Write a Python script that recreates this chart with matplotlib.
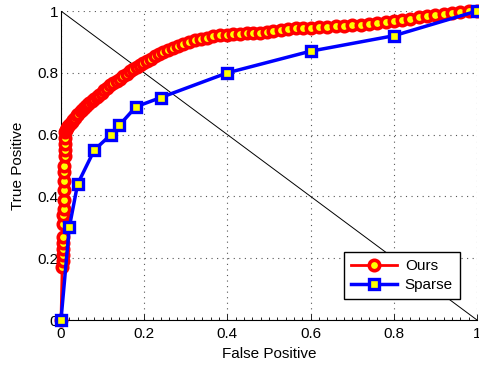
import numpy as np
import matplotlib
matplotlib.use('Agg')
import matplotlib.pyplot as plt
from matplotlib.ticker import MultipleLocator

plt.rcParams['font.family'] = ['Liberation Sans', 'DejaVu Sans']

# ROC curve of our method
ours_fp = [0.0, 0.003, 0.004, 0.004, 0.005, 0.005, 0.005, 0.006, 0.006, 0.007,
           0.007, 0.007, 0.008, 0.008, 0.008, 0.009, 0.009, 0.009, 0.010, 0.010,
           0.012, 0.015, 0.018, 0.022, 0.026, 0.030, 0.034, 0.038, 0.042, 0.047,
           0.052, 0.057, 0.062, 0.068, 0.074, 0.080, 0.086, 0.092, 0.098, 0.104,
           0.110, 0.118, 0.126, 0.134, 0.142, 0.150, 0.158, 0.166, 0.174, 0.182,
           0.190, 0.198, 0.206, 0.216, 0.226, 0.236, 0.246, 0.258, 0.270, 0.282,
           0.294, 0.308, 0.322, 0.336, 0.350, 0.366, 0.382, 0.398, 0.414, 0.430,
           0.446, 0.462, 0.478, 0.494, 0.510, 0.528, 0.546, 0.564, 0.582, 0.600,
           0.620, 0.640, 0.660, 0.680, 0.700, 0.720, 0.740, 0.760, 0.780, 0.800,
           0.820, 0.840, 0.860, 0.880, 0.900, 0.920, 0.940, 0.960, 0.980, 1.000]
ours_tp = [0.0, 0.17, 0.19, 0.21, 0.23, 0.25, 0.27, 0.31, 0.34, 0.36,
           0.39, 0.42, 0.45, 0.48, 0.50, 0.53, 0.55, 0.57, 0.59, 0.61,
           0.615, 0.62, 0.627, 0.634, 0.641, 0.648, 0.655, 0.662, 0.668, 0.675,
           0.682, 0.689, 0.695, 0.702, 0.709, 0.716, 0.722, 0.729, 0.736, 0.745,
           0.752, 0.760, 0.767, 0.774, 0.781, 0.789, 0.797, 0.806, 0.813, 0.819,
           0.825, 0.831, 0.838, 0.846, 0.853, 0.860, 0.866, 0.873, 0.880, 0.887,
           0.893, 0.899, 0.905, 0.910, 0.914, 0.918, 0.921, 0.923, 0.925, 0.927,
           0.928, 0.929, 0.930, 0.932, 0.934, 0.938, 0.942, 0.944, 0.945, 0.946,
           0.947, 0.948, 0.950, 0.952, 0.954, 0.956, 0.958, 0.961, 0.964, 0.967,
           0.971, 0.975, 0.979, 0.983, 0.987, 0.990, 0.993, 0.997, 0.999, 1.0]

# ROC curve of the sparse baseline
sparse_fp = [0.0, 0.02, 0.04, 0.08, 0.12, 0.14, 0.18, 0.24, 0.40, 0.60, 0.80, 1.0]
sparse_tp = [0.0, 0.30, 0.44, 0.55, 0.60, 0.63, 0.69, 0.72, 0.80, 0.87, 0.92, 1.0]

ticks = [0, 0.2, 0.4, 0.6, 0.8, 1]
tick_labels = ['0', '0.2', '0.4', '0.6', '0.8', '1']

fig = plt.figure(figsize=(4.79, 3.67), dpi=100)
ax = fig.add_axes([0.1273, 0.128, 0.8686, 0.842])

ax.plot([0, 1], [1, 0], color='black', lw=0.7, zorder=2)
ax.plot(ours_fp, ours_tp, color='red', lw=2, marker='o', ms=7.5,
        mfc='yellow', mec='red', mew=2.6, label='Ours', zorder=3, clip_on=False)
ax.plot(sparse_fp, sparse_tp, color='blue', lw=2.5, marker='s', ms=7,
        mfc='yellow', mec='blue', mew=2.4, label='Sparse', zorder=4, clip_on=False)

ax.set_xlim(0, 1)
ax.set_ylim(0, 1)
ax.set_xticks(ticks)
ax.set_xticklabels(tick_labels)
ax.set_yticks(ticks)
ax.set_yticklabels(tick_labels)
ax.xaxis.set_minor_locator(MultipleLocator(0.02))
ax.tick_params(which='major', direction='in', length=4, width=0.6,
               labelsize=11, pad=5)
ax.tick_params(axis='x', which='minor', direction='in', length=2, width=0.6)
ax.tick_params(axis='y', which='major', length=0, pad=2)
ax.spines['top'].set_visible(False)
ax.spines['right'].set_visible(False)
ax.grid(True, which='major', linestyle=(0, (1, 4)), color='#555555', lw=0.8)

ax.set_xlabel('False Positive', fontsize=11, labelpad=4)
ax.set_ylabel('True Positive', fontsize=11, labelpad=9)

leg = ax.legend(loc='lower right', bbox_to_anchor=(0.977, 0.043),
                fontsize=11, fancybox=False, framealpha=1,
                edgecolor='black', handlelength=3, borderpad=0.45,
                labelspacing=0.35, handletextpad=0.5)
leg.get_frame().set_linewidth(1)

fig.savefig('out.png', dpi=100)
